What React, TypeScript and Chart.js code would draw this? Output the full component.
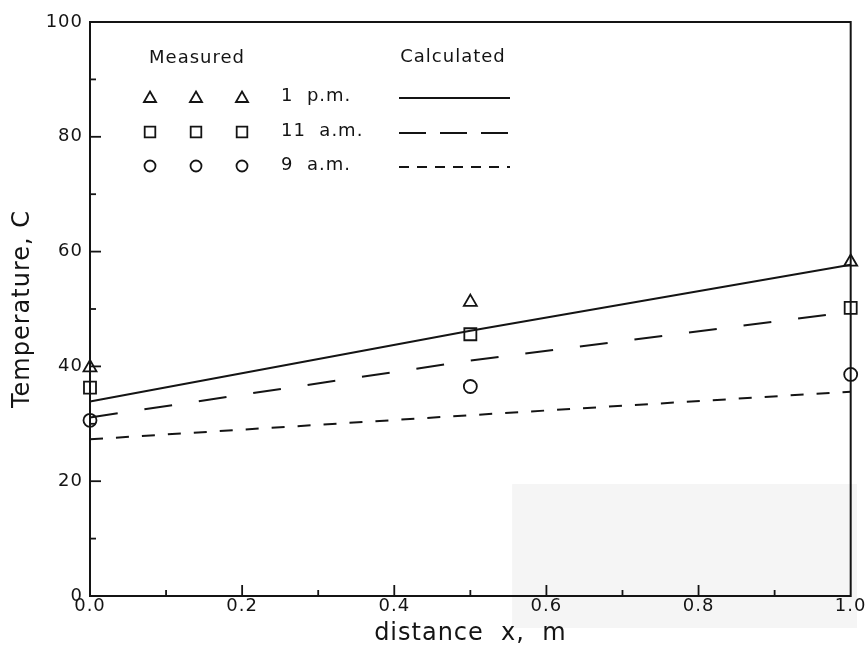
import React, { useEffect, useRef } from 'react';
import { Chart, registerables } from 'chart.js';

Chart.register(...registerables);

// ---- data ----
const xPositions = [0, 0.5, 1.0];
const measured1pm = [39.8, 51.2, 58.2];
const measured11am = [36.3, 45.6, 50.2];
const measured9am = [30.6, 36.5, 38.6];
const calculated1pm = [33.9, 46.2, 57.7];
const calculated11am = [31.1, 41.0, 49.5];
const calculated9am = [27.3, 31.5, 35.6];
const seriesLabels = ['1 p.m.', '11 a.m.', '9 a.m.'];
const xTickValues = [0, 0.2, 0.4, 0.6, 0.8, 1.0];
const yTickValues = [0, 20, 40, 60, 80, 100];
const xTitle = 'distance  x,  m';
const yTitle = 'Temperature, C';
const measuredHeader = 'Measured';
const calculatedHeader = 'Calculated';

const INK = '#141414';
const FONT = '"DejaVu Sans", sans-serif';

const toPoints = (ys: number[]) => xPositions.map((x, i) => ({ x, y: ys[i] }));

const markerStyles = ['triangle', 'rect', 'circle'];
const markerRadius = [7.5, 8.5, 6.5];
const plotDashes: number[][] = [[], [28, 27], [13, 13]];
const legendDashes: number[][] = [[], [27, 14], [10, 8]];

function drawMarker(ctx: CanvasRenderingContext2D, style: string, x: number, y: number, r: number) {
  ctx.beginPath();
  if (style === 'triangle') {
    let rad = 0;
    ctx.moveTo(x + Math.sin(rad) * r, y - Math.cos(rad) * r);
    rad += (2 * Math.PI) / 3;
    ctx.lineTo(x + Math.sin(rad) * r, y - Math.cos(rad) * r);
    rad += (2 * Math.PI) / 3;
    ctx.lineTo(x + Math.sin(rad) * r, y - Math.cos(rad) * r);
    ctx.closePath();
  } else if (style === 'rect') {
    const s = Math.SQRT1_2 * r;
    ctx.rect(x - s, y - s, 2 * s, 2 * s);
  } else {
    ctx.arc(x, y, r, 0, Math.PI * 2);
  }
  ctx.stroke();
}

const decorPlugin = {
  id: 'decor',
  beforeDraw(chart: any) {
    const ctx: CanvasRenderingContext2D = chart.ctx;
    (ctx as any).letterSpacing = '1px';
    // faint scanned-paper patch in lower right
    const xs = chart.scales.x;
    const ys = chart.scales.y;
    ctx.save();
    ctx.fillStyle = '#f5f5f5';
    const px0 = xs.getPixelForValue(0.555);
    const py0 = ys.getPixelForValue(19.5);
    ctx.fillRect(px0, py0, chart.width - 8 - px0, 628 - py0);
    ctx.restore();
  },
  afterDatasetsDraw(chart: any) {
    const ctx: CanvasRenderingContext2D = chart.ctx;
    const { left, right, top, bottom } = chart.chartArea;
    const xs = chart.scales.x;
    const ys = chart.scales.y;
    ctx.save();
    ctx.strokeStyle = INK;
    ctx.lineWidth = 2;
    ctx.strokeRect(left, top, right - left, bottom - top);
    // inward ticks, left axis (major every 20, minor every 10)
    ctx.lineWidth = 1.8;
    for (let v = 10; v < 100; v += 10) {
      const y = ys.getPixelForValue(v);
      const len = v % 20 === 0 ? 11 : 6;
      ctx.beginPath();
      ctx.moveTo(left, y);
      ctx.lineTo(left + len, y);
      ctx.stroke();
    }
    // inward ticks, bottom axis (major every 0.2, minor every 0.1)
    for (let i = 1; i < 10; i++) {
      const x = xs.getPixelForValue(i / 10);
      const len = i % 2 === 0 ? 11 : 6;
      ctx.beginPath();
      ctx.moveTo(x, bottom);
      ctx.lineTo(x, bottom - len);
      ctx.stroke();
    }
    ctx.restore();

    // in-plot legend
    ctx.save();
    (ctx as any).letterSpacing = '1px';
    ctx.fillStyle = INK;
    ctx.strokeStyle = INK;
    ctx.font = `18px ${FONT}`;
    ctx.textBaseline = 'middle';
    ctx.textAlign = 'center';
    ctx.fillText(measuredHeader, 197, 58);
    ctx.fillText(calculatedHeader, 453, 57);
    const rows = [97, 132, 166];
    const cols = [150, 196, 242];
    seriesLabels.forEach((lab, i) => {
      const y = rows[i];
      ctx.lineWidth = 1.8;
      ctx.setLineDash([]);
      cols.forEach((cx) => drawMarker(ctx, markerStyles[i], cx, y + (i === 0 ? 1.5 : 0), markerRadius[i] - (i === 0 ? 0.5 : 1)));
      ctx.textAlign = 'left';
      ctx.fillText(lab.replace(' ', '  '), 281, y - 1);
      ctx.lineWidth = 2;
      ctx.setLineDash(legendDashes[i]);
      ctx.beginPath();
      ctx.moveTo(399, y + 1);
      ctx.lineTo(510, y + 1);
      ctx.stroke();
    });
    ctx.restore();
  },
};

export default function App() {
  const ref = useRef<HTMLCanvasElement | null>(null);

  useEffect(() => {
    if (!ref.current) return;
    const lineSets = [calculated1pm, calculated11am, calculated9am].map((vals, i) => ({
      type: 'line' as const,
      label: `Calculated ${seriesLabels[i]}`,
      data: toPoints(vals),
      borderColor: INK,
      borderWidth: 2,
      borderDash: plotDashes[i],
      pointRadius: 0,
      tension: 0,
      fill: false,
      clip: false as any,
      order: 2,
    }));
    const pointSets = [measured1pm, measured11am, measured9am].map((vals, i) => ({
      type: 'line' as const,
      label: `Measured ${seriesLabels[i]}`,
      data: toPoints(vals),
      showLine: false,
      pointStyle: markerStyles[i] as any,
      pointRadius: markerRadius[i],
      pointBorderWidth: 1.8,
      pointBorderColor: INK,
      pointBackgroundColor: 'rgba(0,0,0,0)',
      clip: false as any,
      order: 1,
    }));

    const chart = new Chart(ref.current, {
      type: 'line',
      data: { datasets: [...lineSets, ...pointSets] as any },
      options: {
        animation: false,
        responsive: false,
        devicePixelRatio: 1,
        layout: { padding: { top: 22, right: 14, bottom: 0, left: 0 } },
        plugins: { legend: { display: false }, tooltip: { enabled: false } },
        scales: {
          x: {
            type: 'linear',
            min: 0,
            max: 1,
            afterBuildTicks: (s: any) => {
              s.ticks = xTickValues.map((v) => ({ value: v }));
            },
            afterFit: (s: any) => {
              s.height = 53;
            },
            grid: { display: false, drawTicks: false },
            border: { display: false },
            ticks: {
              color: INK,
              font: { family: FONT, size: 18 },
              padding: 0,
              autoSkip: false,
              maxRotation: 0,
              callback: (v: any) => Number(v).toFixed(1),
            },
            title: {
              display: true,
              text: xTitle,
              color: INK,
              font: { family: FONT, size: 24 },
              padding: { top: 0, bottom: 1 },
            },
          },
          y: {
            type: 'linear',
            min: 0,
            max: 100,
            afterBuildTicks: (s: any) => {
              s.ticks = yTickValues.map((v) => ({ value: v }));
            },
            afterFit: (s: any) => {
              s.width = 90;
            },
            grid: { display: false, drawTicks: false },
            border: { display: false },
            ticks: {
              color: INK,
              font: { family: FONT, size: 18 },
              padding: 7,
              callback: (v: any) => String(v),
            },
            title: {
              display: true,
              text: yTitle,
              color: INK,
              font: { family: FONT, size: 24 },
              padding: { top: 8, bottom: 0 },
            },
          },
        },
      },
      plugins: [decorPlugin],
    });
    return () => chart.destroy();
  }, []);

  return (
    <div style={{ position: 'absolute', left: 0, top: 0, width: 865, height: 649, background: '#fff' }}>
      <canvas ref={ref} width={865} height={649} style={{ display: 'block', width: 865, height: 649 }} />
    </div>
  );
}
